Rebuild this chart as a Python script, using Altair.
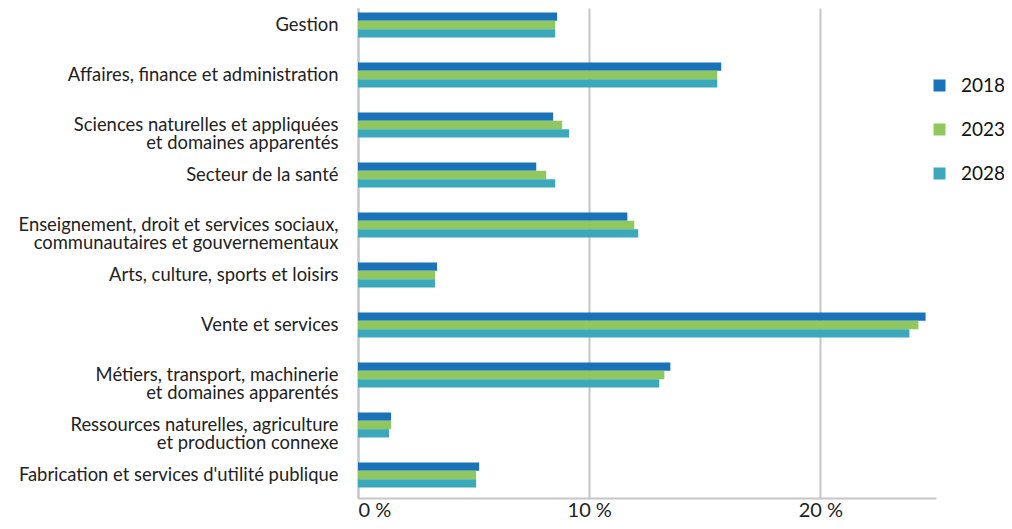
import altair as alt
import pandas as pd

categories = [
    "Gestion",
    "Affaires, finance et administration",
    "Sciences naturelles et appliquées|et domaines apparentés",
    "Secteur de la santé",
    "Enseignement, droit et services sociaux,|communautaires et gouvernementaux",
    "Arts, culture, sports et loisirs",
    "Vente et services",
    "Métiers, transport, machinerie|et domaines apparentés",
    "Ressources naturelles, agriculture|et production connexe",
    "Fabrication et services d'utilité publique",
]
years = ["2018", "2023", "2028"]
v2018 = [8.61, 15.71, 8.44, 7.71, 11.65, 3.42, 24.55, 13.51, 1.43, 5.24]
v2023 = [8.53, 15.54, 8.83, 8.14, 11.95, 3.33, 24.24, 13.25, 1.43, 5.11]
v2028 = [8.53, 15.54, 9.13, 8.53, 12.12, 3.33, 23.85, 13.03, 1.34, 5.11]
colors = ["#1a72b9", "#91c85d", "#3ba8bb"]
x_ticks = [0, 10, 20]

rows = []
for year, vals in zip(years, [v2018, v2023, v2028]):
    for c, v in zip(categories, vals):
        rows.append({"cat": c, "year": year, "value": v})
df = pd.DataFrame(rows)

FONT = "Lato"

chart = alt.Chart(df).mark_bar().encode(
    y=alt.Y(
        "cat:N",
        sort=categories,
        title=None,
        scale=alt.Scale(paddingInner=0.5, paddingOuter=0.15, align=0.3),
        axis=alt.Axis(
            ticks=False,
            domain=True,
            domainColor="#c6c6c6",
            domainWidth=2,
            labelExpr="split(datum.label, '|')",
            labelFont=FONT,
            labelFontSize=18.4,
            labelColor="#222222",
            labelPadding=20,
            labelLineHeight=17.5,
            labelLimit=400,
        ),
    ),
    yOffset=alt.YOffset("year:N", sort=years),
    x=alt.X(
        "value:Q",
        title=None,
        scale=alt.Scale(domain=[0, 25], nice=False),
        axis=alt.Axis(
            values=x_ticks,
            ticks=False,
            grid=True,
            gridColor="#c6c6c6",
            gridWidth=2,
            domainColor="#c6c6c6",
            domainWidth=2,
            labelExpr="datum.value + ' %'",
            labelFont=FONT,
            labelFontSize=20,
            labelColor="#222222",
            labelPadding=2,
        ),
    ),
    color=alt.Color(
        "year:N",
        sort=years,
        scale=alt.Scale(domain=years, range=colors),
        legend=alt.Legend(
            title=None,
            orient="none",
            legendX=572,
            legendY=68,
            symbolType="square",
            symbolSize=144,
            symbolStrokeWidth=0,
            labelFont=FONT,
            labelFontSize=19,
            labelColor="#111111",
            labelOffset=12,
            rowPadding=24,
        ),
    ),
).properties(
    width=578,
    height=490,
    padding={"left": 350, "top": 0, "right": 68, "bottom": 23},
    autosize=alt.AutoSizeParams(type="none"),
).configure_view(stroke=None)

chart.save("out.html", embed_options={"renderer": "svg", "actions": False})
